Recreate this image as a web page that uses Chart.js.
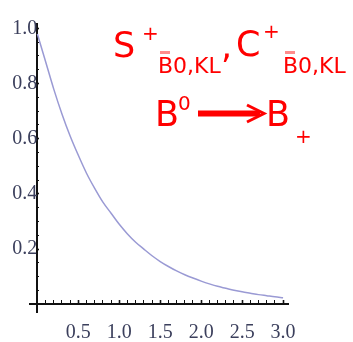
<!DOCTYPE html>
<html>
<head>
<meta charset="utf-8">
<script src="https://cdn.jsdelivr.net/npm/chart.js@4.4.1/dist/chart.umd.min.js"></script>
<style>
  html, body { margin: 0; padding: 0; background: #fff; }
</style>
</head>
<body>
<canvas id="grafica" width="353" height="342"></canvas>
<script>
// curva de decaimiento, un punto cada 0.1
const tiempos = [0, 0.1, 0.2, 0.3, 0.4, 0.5, 0.6, 0.7, 0.8, 0.9, 1.0,
  1.1, 1.2, 1.3, 1.4, 1.5, 1.6, 1.7, 1.8, 1.9, 2.0,
  2.1, 2.2, 2.3, 2.4, 2.5, 2.6, 2.7, 2.8, 2.9, 3.0];
const valores = [0.98, 0.88, 0.78, 0.69, 0.61, 0.54, 0.475, 0.42, 0.37, 0.33, 0.29,
  0.255, 0.225, 0.2, 0.176, 0.155, 0.137, 0.121, 0.107, 0.095, 0.084,
  0.074, 0.065, 0.058, 0.051, 0.045, 0.04, 0.035, 0.031, 0.027, 0.024];

// marcas con numero en cada eje
const etiquetasX = [0.5, 1.0, 1.5, 2.0, 2.5, 3.0];
const etiquetasY = [0.2, 0.4, 0.6, 0.8, 1.0];

function buscar(lista, v) {
  return lista.find((t) => Math.abs(t - v) < 1e-6);
}

const fuenteEje = { family: "'Liberation Serif', serif", size: 20 };
const colorEje = "#3b3f5c";

// texto rojo de la esquina superior derecha
const rotulos = {
  id: "rotulos",
  afterDraw(chart) {
    const c = chart.ctx;
    c.save();
    c.fillStyle = "#ff0000";
    c.textBaseline = "alphabetic";
    c.textAlign = "left";
    const grande = "35px 'DejaVu Sans'";
    const medio = "22px 'DejaVu Sans'";
    const chico = "20px 'DejaVu Sans'";

    // primera linea
    c.font = grande; c.fillText("S", 113, 57);
    c.font = chico; c.fillText("+", 142, 40);
    c.font = medio; c.fillText("B0,KL", 158, 73);
    c.font = grande; c.fillText(",", 221, 58);
    c.font = grande; c.fillText("C", 236, 56);
    c.font = chico; c.fillText("+", 263, 38);
    c.font = medio; c.fillText("B0,KL", 283, 73);

    // barras sobre las B del subindice
    c.fillStyle = "#ff8c8c";
    c.fillRect(160, 51, 10, 3);
    c.fillRect(285, 51, 10, 3);

    // segunda linea
    c.fillStyle = "#ff0000";
    c.font = grande; c.fillText("B", 155, 126);
    c.font = chico; c.fillText("0", 178, 110);
    c.fillRect(198, 110.5, 62, 6);
    c.strokeStyle = "#ff0000";
    c.lineWidth = 3;
    c.beginPath();
    c.moveTo(247, 105);
    c.lineTo(264, 113.5);
    c.lineTo(247, 122);
    c.stroke();
    c.font = grande; c.fillText("B", 266, 126);
    c.font = chico; c.fillText("+", 295, 143);
    c.restore();
  },
};

new Chart(document.getElementById("grafica"), {
  type: "line",
  data: {
    datasets: [
      {
        data: tiempos.map((t, i) => ({ x: t, y: valores[i] })),
        borderColor: "#9a9ad4",
        borderWidth: 1.5,
        pointRadius: 0,
        tension: 0.4,
        cubicInterpolationMode: "monotone",
      },
    ],
  },
  options: {
    responsive: false,
    animation: false,
    layout: { padding: { left: 30, right: 65, top: 18, bottom: 30 } },
    plugins: { legend: { display: false }, tooltip: { enabled: false } },
    scales: {
      x: {
        type: "linear",
        position: { y: 0 },
        min: -0.09,
        max: 3.06,
        border: { color: "#111", width: 2 },
        grid: {
          drawOnChartArea: false,
          tickLength: -5,
          tickColor: "#111",
          tickWidth: (ctx) => (ctx.tick && buscar(etiquetasX, ctx.tick.value) !== undefined ? 1.6 : 1),
        },
        ticks: {
          stepSize: 0.1,
          includeBounds: false,
          autoSkip: false,
          maxRotation: 0,
          padding: 21,
          color: colorEje,
          font: fuenteEje,
          callback: (v) => {
            const e = buscar(etiquetasX, v);
            return e === undefined ? "" : e.toFixed(1);
          },
        },
      },
      y: {
        type: "linear",
        position: { x: 0 },
        min: -0.028,
        max: 1.016,
        border: { color: "#111", width: 2 },
        grid: {
          drawOnChartArea: false,
          tickLength: -3,
          tickColor: "#111",
          tickWidth: (ctx) => (ctx.tick && buscar(etiquetasY, ctx.tick.value) !== undefined ? 1.6 : 1),
        },
        ticks: {
          stepSize: 0.05,
          includeBounds: false,
          autoSkip: false,
          padding: 12,
          color: colorEje,
          font: fuenteEje,
          callback: (v) => {
            const e = buscar(etiquetasY, v);
            return e === undefined ? "" : e.toFixed(1);
          },
        },
      },
    },
  },
  plugins: [rotulos],
});
</script>
</body>
</html>
